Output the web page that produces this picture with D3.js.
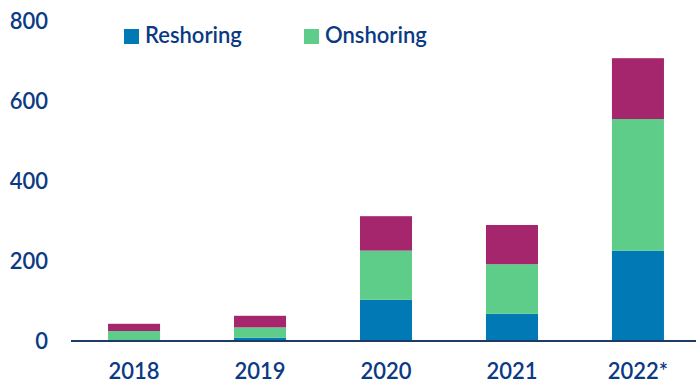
<!DOCTYPE html>
<html>
<head>
<meta charset="utf-8">
<script src="https://cdn.jsdelivr.net/npm/d3@7"></script>
<style>
  body { margin: 0; background: #fff; }
  text { font-family: Lato, "Open Sans", sans-serif; fill: #0b3a84; }
</style>
</head>
<body>
<div id="chart"></div>
<script>
// values
var years = ["2018", "2019", "2020", "2021", "2022*"];
var reshoring   = [2, 8, 103, 68, 226];
var onshoring   = [23, 26, 123, 124, 329];
var nearshoring = [18, 29, 86, 98, 152];   // third series, not in legend
var yTicks = [0, 200, 400, 600, 800];

var keys = ["reshoring", "onshoring", "nearshoring"];
var colors = { reshoring: "#0079b4", onshoring: "#5fcd8a", nearshoring: "#a6266d" };
var legendItems = [
  { key: "reshoring", label: "Reshoring", x: 124 },
  { key: "onshoring", label: "Onshoring", x: 304 }
];

var width = 696, height = 385;

var rows = years.map(function(y, i) {
  return { year: y, reshoring: reshoring[i], onshoring: onshoring[i], nearshoring: nearshoring[i] };
});

var svg = d3.select("#chart").append("svg")
    .attr("width", width)
    .attr("height", height);

var x = d3.scaleBand()
    .domain(years)
    .range([71, 701])
    .paddingInner(0.587)
    .paddingOuter(0.294);

var y = d3.scaleLinear()
    .domain([0, 800])
    .range([341, 21]);

var series = d3.stack().keys(keys)(rows);

svg.append("g")
  .selectAll("g")
  .data(series)
  .enter().append("g")
    .attr("fill", function(d) { return colors[d.key]; })
  .selectAll("rect")
  .data(function(d) { return d; })
  .enter().append("rect")
    .attr("x", function(d) { return x(d.data.year); })
    .attr("width", x.bandwidth())
    .attr("y", function(d) { return y(d[1]); })
    .attr("height", function(d) { return y(d[0]) - y(d[1]); });

// baseline
svg.append("line")
    .attr("x1", 71).attr("x2", width)
    .attr("y1", y(0)).attr("y2", y(0))
    .attr("stroke", "#1c3b66")
    .attr("stroke-width", 2);

// y axis labels
svg.append("g")
  .selectAll("text")
  .data(yTicks)
  .enter().append("text")
    .attr("x", 48)
    .attr("y", function(d) { return y(d); })
    .attr("dy", "0.36em")
    .attr("text-anchor", "end")
    .attr("font-size", 22)
    .attr("font-weight", 600)
    .text(function(d) { return d; });

// x axis labels
svg.append("g")
  .selectAll("text")
  .data(years)
  .enter().append("text")
    .attr("x", function(d) { return x(d) + x.bandwidth() / 2; })
    .attr("y", 379)
    .attr("text-anchor", "middle")
    .attr("font-size", 22)
    .attr("font-weight", 600)
    .text(function(d) { return d; });

// legend
var legend = svg.append("g")
  .selectAll("g")
  .data(legendItems)
  .enter().append("g")
    .attr("transform", function(d) { return "translate(" + d.x + ",29)"; });

legend.append("rect")
    .attr("width", 15)
    .attr("height", 15)
    .attr("fill", function(d) { return colors[d.key]; });

legend.append("text")
    .attr("x", 21)
    .attr("y", 14)
    .attr("font-size", 22)
    .attr("font-weight", 600)
    .text(function(d) { return d.label; });
</script>
</body>
</html>
